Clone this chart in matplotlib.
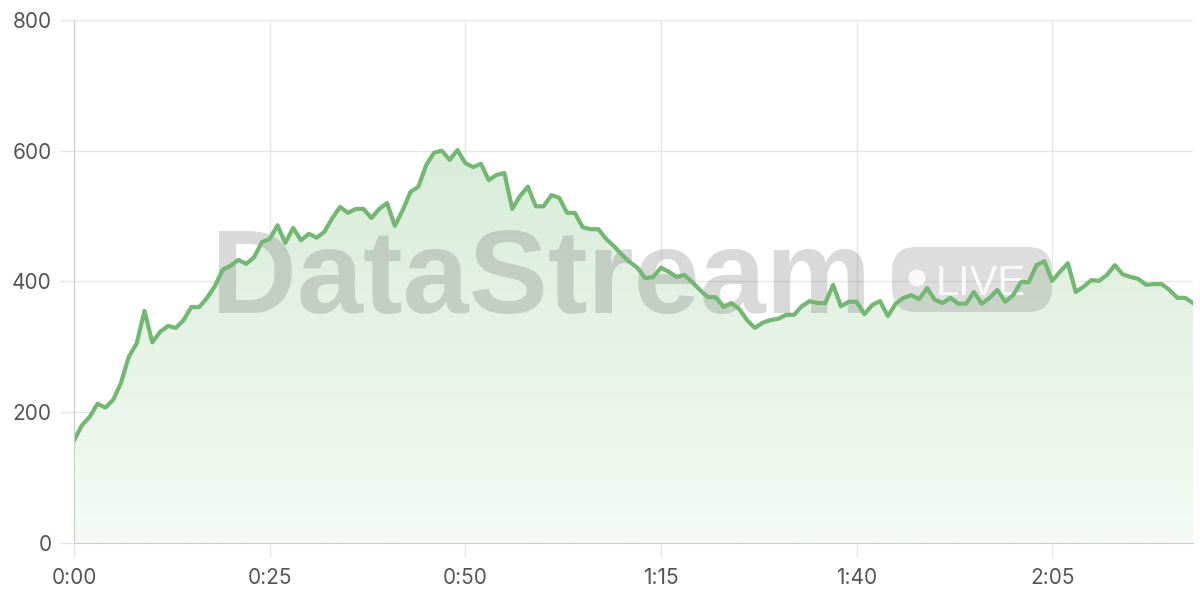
import matplotlib.pyplot as plt
import matplotlib.transforms as mtransforms
import numpy as np
from matplotlib.colors import LinearSegmentedColormap
from matplotlib.patches import FancyBboxPatch, Circle

# values, one point per minute
minutes = np.arange(144)
values = [157, 180, 193, 213, 207, 219, 245, 285, 305, 355,
          307, 323, 332, 329, 341, 361, 361, 375, 393, 418,
          424, 433, 427, 437, 460, 465, 486, 459, 482, 463,
          473, 467, 476, 497, 514, 505, 511, 511, 497, 511,
          520, 485, 509, 537, 545, 578, 597, 600, 586, 601,
          581, 575, 580, 555, 563, 566, 511, 531, 545, 515,
          515, 532, 528, 505, 505, 483, 480, 480, 465, 454,
          441, 430, 421, 405, 407, 421, 415, 407, 410, 399,
          387, 376, 376, 361, 367, 358, 341, 329, 337, 341,
          343, 349, 349, 362, 370, 367, 367, 395, 362, 369,
          369, 350, 364, 370, 347, 366, 375, 379, 373, 390,
          372, 367, 375, 366, 366, 384, 366, 375, 387, 369,
          379, 399, 399, 425, 431, 401, 415, 428, 384, 392,
          402, 401, 410, 425, 411, 407, 404, 395, 396, 396,
          387, 375, 375, 367]
x_ticks = [0, 25, 50, 75, 100, 125]
x_labels = ['0:00', '0:25', '0:50', '1:15', '1:40', '2:05']
y_ticks = [0, 200, 400, 600, 800]

plt.rcParams['font.family'] = ['Inter', 'DejaVu Sans']

fig = plt.figure(figsize=(12, 6), dpi=100)
ax = fig.add_axes([0.0617, 0.095, 0.9325, 0.8717])
ax.set_xlim(0, 143)
ax.set_ylim(0, 800)

# gradient fill under the line, clipped to the area
grad = np.linspace(0, 1, 256).reshape(-1, 1)
cmap = LinearSegmentedColormap.from_list('g', ['#f5faf5', '#d8ecd8'])
img = ax.imshow(grad, extent=[0, 143, 0, 600], origin='lower', aspect='auto',
                cmap=cmap, zorder=1)
clip = plt.Polygon(np.column_stack([np.r_[minutes, minutes[::-1]],
                                    np.r_[values, np.zeros(len(values))]]),
                   transform=ax.transData, facecolor='none', edgecolor='none')
ax.add_patch(clip)
img.set_clip_path(clip)

ax.plot(minutes, values, color='#72b872', lw=3, zorder=4)

ax.set_xticks(x_ticks, x_labels)
ax.set_yticks(y_ticks)
ax.grid(True, color='#e6e6e6', lw=1)
ax.set_axisbelow(True)
for s in ['top', 'right']:
    ax.spines[s].set_visible(False)
for s in ['left', 'bottom']:
    ax.spines[s].set_color('#cccccc')
    ax.spines[s].set_zorder(5)
ax.tick_params(axis='both', colors='#e6e6e6', labelcolor='#555555',
               labelsize=15, length=10, width=1)
ax.tick_params(axis='x', pad=8)
ax.tick_params(axis='y', pad=6)

# watermark, placed in pixels from the top-left corner, under the line
px = mtransforms.Affine2D().scale(1, -1).translate(0, 600)
ax.text(211, 313, 'DataStream', transform=px, fontsize=85.5, fontweight='bold',
        family='Liberation Sans', color='#777777', alpha=0.28,
        ha='left', va='baseline', zorder=2, clip_on=False)
pill = FancyBboxPatch((892, 247), 160, 65, boxstyle='round,pad=0,rounding_size=24',
                      transform=px, facecolor='#888888', alpha=0.28,
                      edgecolor='none', zorder=2, clip_on=False)
ax.add_patch(pill)
ax.add_patch(Circle((917, 278), 8.5, transform=px, facecolor='white', alpha=0.85,
                    edgecolor='none', zorder=3, clip_on=False))
ax.text(936, 295, 'LIVE', transform=px, fontsize=30, family='Liberation Sans',
        color='white', alpha=0.85, ha='left', va='baseline', zorder=3, clip_on=False)

fig.savefig('out.png', dpi=100)
